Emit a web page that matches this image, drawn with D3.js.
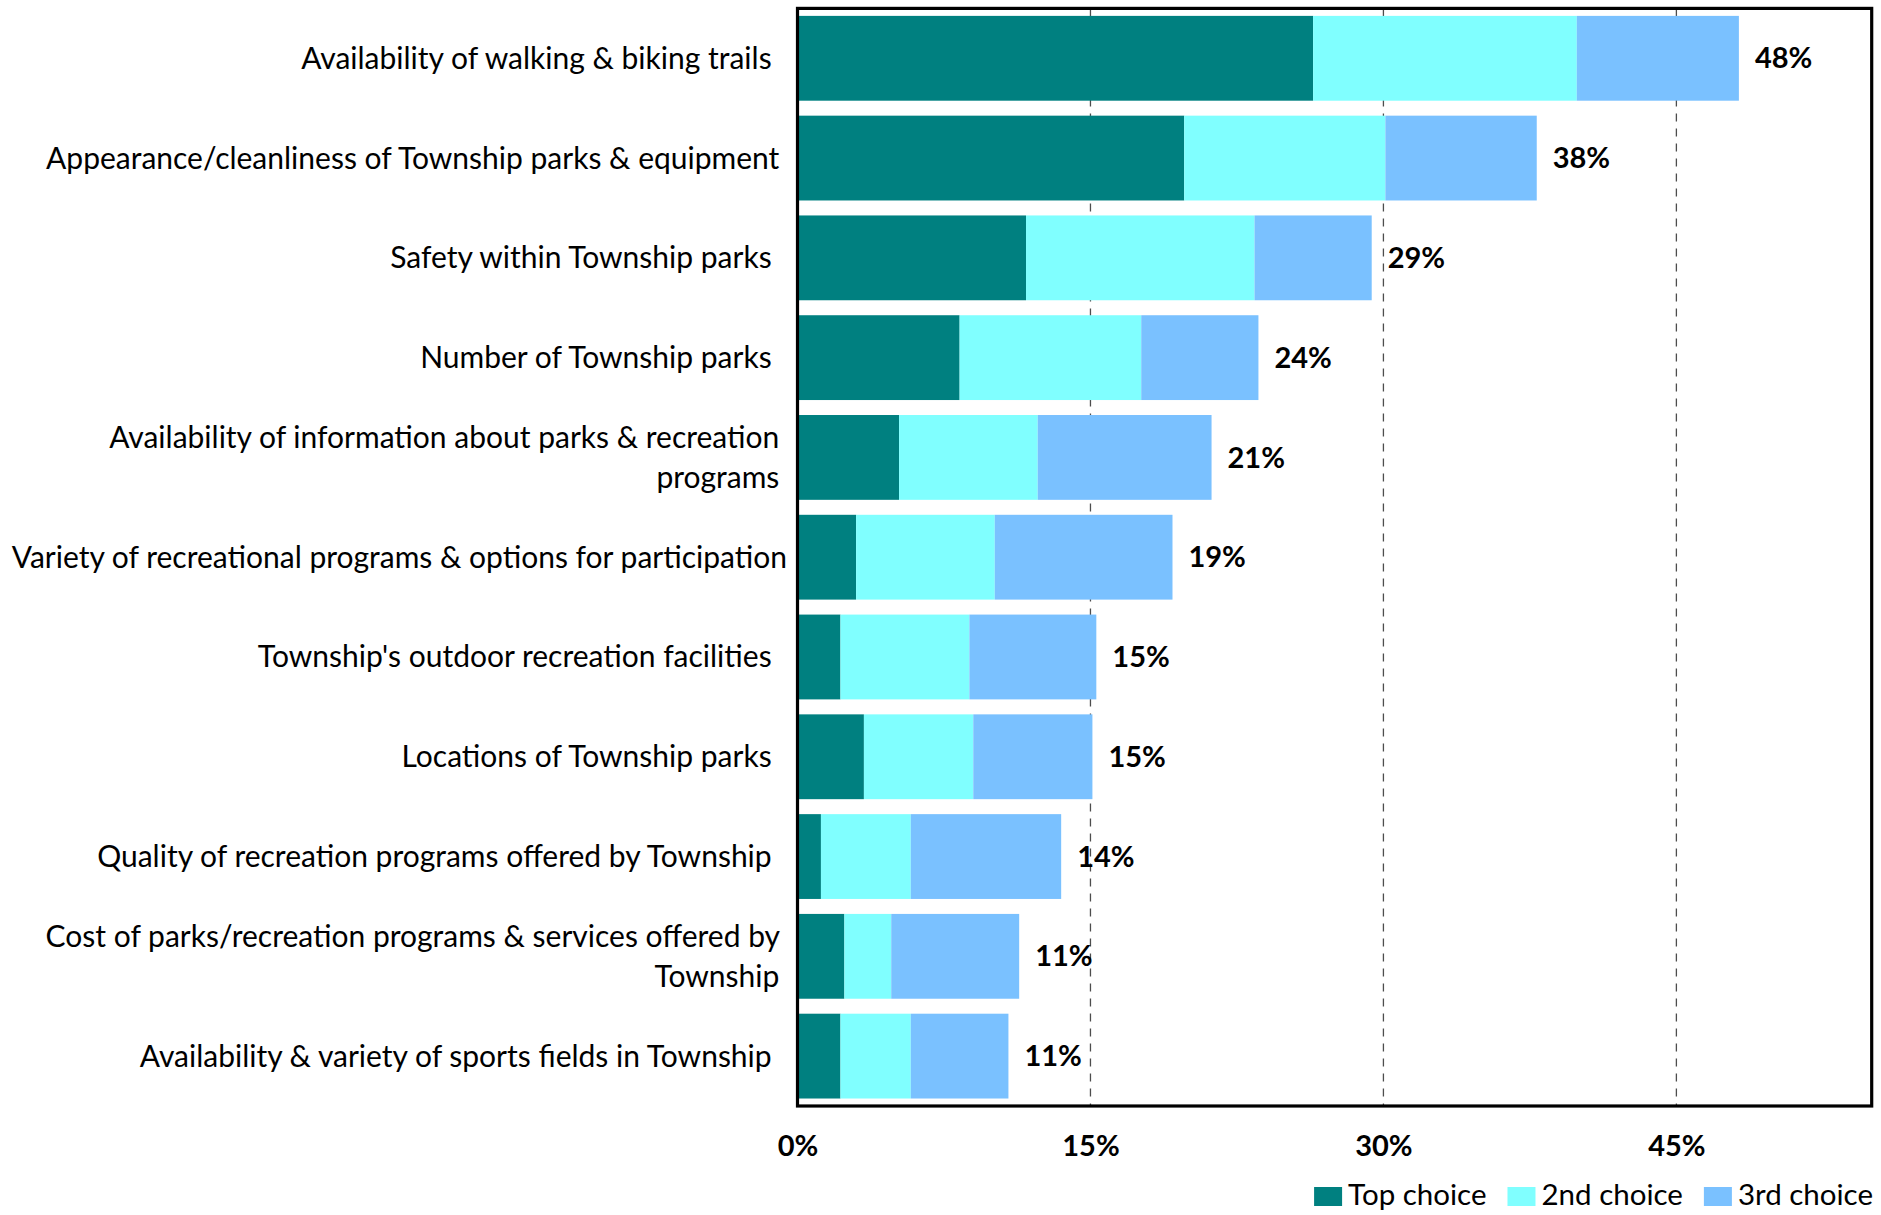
<!DOCTYPE html>
<html>
<head>
<meta charset="utf-8">
<script src="https://cdn.jsdelivr.net/npm/d3@7"></script>
<style>
  html, body { margin: 0; padding: 0; background: #fff; }
  svg { display: block; }
  text { font-family: Lato, "Open Sans", sans-serif; fill: #000; white-space: pre; }
</style>
</head>
<body>
<svg id="chart" width="1881" height="1215"></svg>
<script>
const categories = [
  "Availability of walking & biking trails  ",
  "Appearance/cleanliness of Township parks & equipment ",
  "Safety within Township parks  ",
  "Number of Township parks  ",
  "Availability of information about parks & recreation \nprograms ",
  "Variety of recreational programs & options for participation",
  "Township's outdoor recreation facilities  ",
  "Locations of Township parks  ",
  "Quality of recreation programs offered by Township  ",
  "Cost of parks/recreation programs & services offered by \nTownship ",
  "Availability & variety of sports fields in Township  "
];
const topChoice    = [26.4, 19.8, 11.7, 8.3, 5.2, 3.0, 2.2, 3.4, 1.2, 2.4, 2.2];
const secondChoice = [13.5, 10.3, 11.7, 9.3, 7.1, 7.1, 6.6, 5.6, 4.6, 2.4, 3.6];
const thirdChoice  = [8.3, 7.75, 6.0, 6.0, 8.9, 9.1, 6.5, 6.1, 7.7, 6.55, 5.0];
const totalLabels  = ["48%", "38%", "29%", "24%", "21%", "19%", "15%", "15%", "14%", "11%", "11%"];
const seriesNames  = ["Top choice", "2nd choice", "3rd choice"];
const seriesColors = ["#008080", "#80FFFF", "#7AC1FF"];
const xTicks       = [0, 15, 30, 45];
const xMax         = 55;

const svg = d3.select("#chart");
const plot = { left: 797.5, right: 1871.7, top: 8.4, bottom: 1106 };

const x = d3.scaleLinear().domain([0, xMax]).range([plot.left, plot.right]);
const y = d3.scaleBand().domain(d3.range(categories.length))
  .range([plot.top, plot.bottom]).paddingInner(0.15).paddingOuter(0.075);

const rows = categories.map((c, i) => ({ i, vals: [topChoice[i], secondChoice[i], thirdChoice[i]] }));
const stack = d3.stack().keys([0, 1, 2]).value((d, k) => d.vals[k]);
const stacked = stack(rows);

// gridlines
svg.append("g").selectAll("line").data(xTicks.filter(t => t > 0)).join("line")
  .attr("x1", d => x(d)).attr("x2", d => x(d))
  .attr("y1", plot.top).attr("y2", plot.bottom)
  .attr("stroke", "#4d4d4d").attr("stroke-width", 1.3).attr("stroke-dasharray", "8,7");

// bars
svg.append("g").selectAll("g").data(stacked).join("g")
  .attr("fill", (d, k) => seriesColors[k])
  .selectAll("rect").data(d => d).join("rect")
  .attr("x", d => x(d[0]))
  .attr("width", d => x(d[1]) - x(d[0]))
  .attr("y", d => y(d.data.i))
  .attr("height", y.bandwidth());

// total labels
const last = stacked[stacked.length - 1];
svg.append("g").selectAll("text").data(last).join("text")
  .attr("x", d => x(d[1]) + 16)
  .attr("y", d => y(d.data.i) + y.bandwidth() / 2)
  .attr("dy", "0.35em")
  .attr("font-size", 29).attr("font-weight", "bold")
  .text((d, i) => totalLabels[i]);

// frame
svg.append("rect")
  .attr("x", plot.left).attr("y", plot.top)
  .attr("width", plot.right - plot.left).attr("height", plot.bottom - plot.top)
  .attr("fill", "none").attr("stroke", "#000").attr("stroke-width", 3.2);

// category labels
const catG = svg.append("g");
categories.forEach((c, i) => {
  const lines = c.split("\n");
  const lh = 39.5;
  const cy = y(i) + y.bandwidth() / 2;
  const t = catG.append("text")
    .attr("text-anchor", "end")
    .attr("font-size", 30);
  lines.forEach((ln, j) => {
    t.append("tspan")
      .attr("x", 787)
      .attr("y", cy + (j - (lines.length - 1) / 2) * lh)
      .attr("dy", "0.35em")
      .text(ln);
  });
});

// x axis tick labels
const xAxis = d3.axisBottom(x).tickValues(xTicks).tickFormat(d => d + "%").tickSize(0).tickPadding(0);
const ax = svg.append("g").attr("transform", `translate(0, ${plot.bottom})`).call(xAxis);
ax.select(".domain").remove();
ax.selectAll("text")
  .attr("y", 40).attr("dy", "0.35em")
  .attr("font-size", 29).attr("font-weight", "bold")
  .attr("font-family", "Lato, sans-serif").attr("fill", "#000");

// legend
const leg = svg.append("g");
const items = seriesNames.map((n, k) => {
  const g = leg.append("g");
  g.append("rect").attr("width", 28).attr("height", 19).attr("y", 1187).attr("fill", seriesColors[k]);
  const tx = g.append("text").attr("x", 34).attr("y", 1205).attr("font-size", 29.5).text(n);
  return { g, w: 34 + tx.node().getComputedTextLength() };
});
const gap = 21;
const total = d3.sum(items, d => d.w) + gap * (items.length - 1);
let cx = 1873 - total;
items.forEach(it => { it.g.attr("transform", `translate(${cx},0)`); cx += it.w + gap; });
</script>
</body>
</html>
